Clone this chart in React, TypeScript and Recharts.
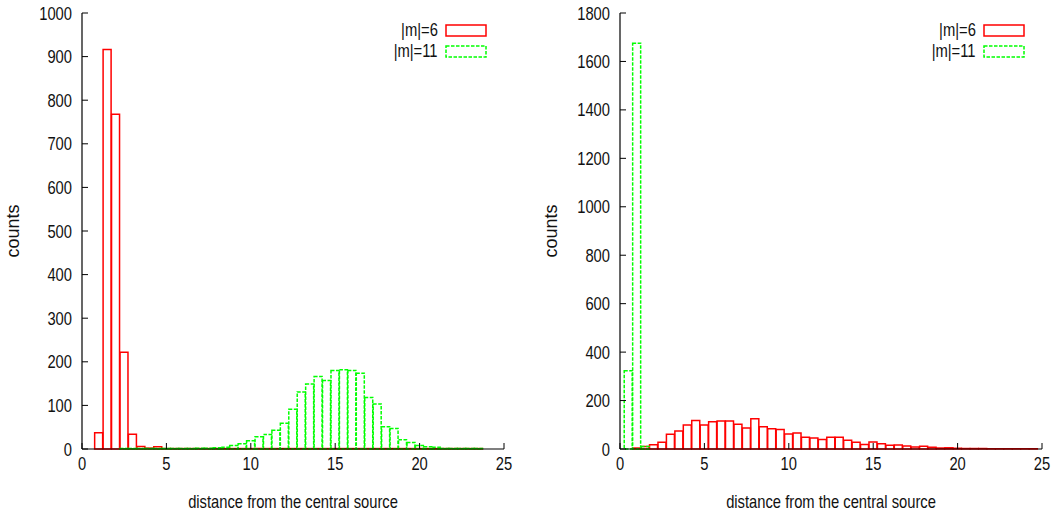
import { Bar, BarChart, Label, Legend, XAxis, YAxis } from "recharts";

// bin centres (distance from the central source), shared by both panels
const distance = [
  0.5, 1, 1.5, 2, 2.5, 3, 3.5, 4, 4.5, 5,
  5.5, 6, 6.5, 7, 7.5, 8, 8.5, 9, 9.5, 10,
  10.5, 11, 11.5, 12, 12.5, 13, 13.5, 14, 14.5, 15,
  15.5, 16, 16.5, 17, 17.5, 18, 18.5, 19, 19.5, 20,
  20.5, 21, 21.5, 22, 22.5, 23, 23.5, 24, 24.5,
];

// left panel
const leftM6 = [
  0, 37, 916, 768, 222, 34, 6, 2, 5, 1,
  1, 1, 1, 1, 1, 1, 1, 1, 1, 1,
  1, 1, 1, 1, 1, 1, 1, 1, 1, 1,
  1, 1, 1, 1, 1, 1, 1, 1, 1, 1,
  1, 1, 1, 1, 1, 1, 1, 0, 0,
];
const leftM11 = [
  0, 0, 0, 0, 1, 1, 1, 1, 1, 1,
  1, 1, 1, 2, 2, 3, 4, 8, 12, 19,
  28, 33, 43, 59, 91, 131, 149, 166, 157, 180,
  182, 180, 174, 118, 103, 51, 47, 21, 15, 8,
  5, 4, 1, 1, 1, 1, 1, 0, 0,
];

// right panel
const rightM6 = [
  0, 4, 10, 18, 28, 61, 74, 99, 118, 99,
  113, 116, 116, 102, 87, 125, 92, 84, 81, 62,
  66, 48, 45, 39, 48, 48, 36, 28, 19, 29,
  22, 15, 17, 12, 8, 11, 7, 4, 5, 3,
  2, 2, 2, 1, 1, 1, 1, 1, 1,
];
const rightM11 = [
  323, 1675, 10, 0, 0, 0, 0, 0, 0, 0,
  0, 0, 0, 0, 0, 0, 0, 0, 0, 0,
  0, 0, 0, 0, 0, 0, 0, 0, 0, 0,
  0, 0, 0, 0, 0, 0, 0, 0, 0, 0,
  0, 0, 0, 0, 0, 0, 0, 0, 0,
];

const xTicks = [0, 5, 10, 15, 20, 25];
const leftYTicks = [0, 100, 200, 300, 400, 500, 600, 700, 800, 900, 1000];
const rightYTicks = [0, 200, 400, 600, 800, 1000, 1200, 1400, 1600, 1800];

const FONT = "'Liberation Sans', Arial, sans-serif";
const FONT_SIZE = 18;
const NARROW = 0.82; // squeeze to look like the condensed helvetica of the original
const TEXT = "#111";
const RED = "#ff0000";
const GREEN = "#00ff00";
const DASH = "3.5 1.5";
const TICK_LEN = 6;

const makeRows = (m6: number[], m11: number[]) =>
  distance.map((d, i) => ({ d, m6: m6[i], m11: m11[i] }));

const NarrowText = ({ x, y, anchor, children }: { x: number; y: number; anchor: string; children: any }) => (
  <text
    transform={`translate(${x} ${y}) scale(${NARROW} 1)`}
    textAnchor={anchor}
    fill={TEXT}
    fontFamily={FONT}
    fontSize={FONT_SIZE}
  >
    {children}
  </text>
);

const BottomTick = (props: any) => {
  const { x, y, payload } = props;
  return (
    <g>
      <line x1={x} x2={x} y1={y} y2={y - TICK_LEN} stroke="#000" />
      <NarrowText x={x} y={y + 20.5} anchor="middle">
        {payload.value}
      </NarrowText>
    </g>
  );
};

const TopTick = (props: any) => {
  const { x, y } = props;
  return <line x1={x} x2={x} y1={y} y2={y + TICK_LEN} stroke="#000" />;
};

const LeftTick = (props: any) => {
  const { x, y, payload } = props;
  return (
    <g>
      <line x1={x} x2={x + TICK_LEN} y1={y} y2={y} stroke="#000" />
      <NarrowText x={x - 10} y={y + 6.5} anchor="end">
        {payload.value}
      </NarrowText>
    </g>
  );
};

const RightTick = (props: any) => {
  const { x, y } = props;
  return <line x1={x - TICK_LEN} x2={x} y1={y} y2={y} stroke="#000" />;
};

const Swatch = ({ color, dashed }: { color: string; dashed?: boolean }) => (
  <svg width={42} height={13} style={{ marginLeft: 7, display: "block" }}>
    <rect
      x={1}
      y={1}
      width={40}
      height={11}
      fill="none"
      stroke={color}
      strokeWidth={1.5}
      strokeDasharray={dashed ? DASH : undefined}
    />
  </svg>
);

const KeyRow = ({ label, color, dashed }: { label: string; color: string; dashed?: boolean }) => (
  <div style={{ display: "flex", alignItems: "center", height: 21 }}>
    <span style={{ width: 68, textAlign: "right", whiteSpace: "nowrap" }}>
      <span style={{ display: "inline-block", transform: `scaleX(${NARROW})`, transformOrigin: "right center" }}>
        {label}
      </span>
    </span>
    <Swatch color={color} dashed={dashed} />
  </div>
);

const KeyBox = () => (
  <div style={{ fontFamily: FONT, fontSize: FONT_SIZE, color: TEXT, lineHeight: "21px" }}>
    <KeyRow label="|m|=6" color={RED} />
    <KeyRow label="|m|=11" color={GREEN} dashed />
  </div>
);

interface PanelProps {
  rows: { d: number; m6: number; m11: number }[];
  yMax: number;
  yTicks: number[];
  width: number;
  yAxisWidth: number;
  rightMargin: number;
  legendLeft: number;
  yLabelX: number;
}

const Panel = ({ rows, yMax, yTicks, width, yAxisWidth, rightMargin, legendLeft, yLabelX }: PanelProps) => (
  <BarChart
    width={width}
    height={518}
    data={rows}
    barCategoryGap={0}
    barGap={0}
    margin={{ top: 13, right: rightMargin, left: 0, bottom: 0 }}
  >
    <XAxis
      xAxisId="bottom"
      type="number"
      dataKey="d"
      domain={[0, 25]}
      ticks={xTicks}
      interval={0}
      height={69}
      tickSize={0}
      tickMargin={0}
      tickLine={false}
      tick={BottomTick}
      axisLine={{ stroke: "#000", strokeWidth: 1.2 }}
    >
      <Label
        content={({ viewBox }: any) => (
          <NarrowText x={viewBox.x + viewBox.width / 2} y={viewBox.y + viewBox.height - 10} anchor="middle">
            distance from the central source
          </NarrowText>
        )}
      />
    </XAxis>
    <XAxis
      xAxisId="top"
      orientation="top"
      type="number"
      dataKey="d"
      domain={[0, 25]}
      ticks={xTicks}
      interval={0}
      height={0}
      tickSize={0}
      tickMargin={0}
      tickLine={false}
      tick={TopTick}
      axisLine={{ stroke: "#000", strokeWidth: 1.2 }}
    />
    <YAxis
      yAxisId="left"
      type="number"
      domain={[0, yMax]}
      ticks={yTicks}
      interval={0}
      width={yAxisWidth}
      tickSize={0}
      tickMargin={0}
      tickLine={false}
      tick={LeftTick}
      axisLine={{ stroke: "#000", strokeWidth: 1.2 }}
    >
      <Label
        content={({ viewBox }: any) => {
          const cx = viewBox.x + yLabelX;
          const cy = viewBox.y + viewBox.height / 2;
          return (
            <text
              x={cx}
              y={cy}
              transform={`rotate(-90 ${cx} ${cy})`}
              textAnchor="middle"
              fill={TEXT}
              fontFamily={FONT}
              fontSize={FONT_SIZE}
            >
              counts
            </text>
          );
        }}
      />
    </YAxis>
    <YAxis
      yAxisId="right"
      orientation="right"
      type="number"
      domain={[0, yMax]}
      ticks={yTicks}
      interval={0}
      width={0}
      tickSize={0}
      tickMargin={0}
      tickLine={false}
      tick={RightTick}
      axisLine={{ stroke: "#000", strokeWidth: 1.2 }}
    />
    <Legend
      layout="vertical"
      align="center"
      verticalAlign="middle"
      wrapperStyle={{ left: legendLeft, top: 20, width: 130 }}
      content={() => <KeyBox />}
    />
    <Bar
      name="|m|=6"
      dataKey="m6"
      xAxisId="bottom"
      yAxisId="left"
      fill="none"
      stroke={RED}
      strokeWidth={1.5}
      isAnimationActive={false}
    />
    <Bar
      name="|m|=11"
      dataKey="m11"
      xAxisId="top"
      yAxisId="right"
      fill="none"
      stroke={GREEN}
      strokeWidth={1.5}
      strokeDasharray={DASH}
      isAnimationActive={false}
    />
  </BarChart>
);

export default function App() {
  return (
    <div style={{ position: "absolute", left: 0, top: 0, width: 1055, height: 518, background: "#fff", fontFamily: FONT }}>
      <div style={{ position: "absolute", left: 0, top: 0 }}>
        <Panel
          rows={makeRows(leftM6, leftM11)}
          yMax={1000}
          yTicks={leftYTicks}
          width={527}
          yAxisWidth={82}
          rightMargin={23}
          legendLeft={370}
          yLabelX={18.5}
        />
      </div>
      <div style={{ position: "absolute", left: 527, top: 0 }}>
        <Panel
          rows={makeRows(rightM6, rightM11)}
          yMax={1800}
          yTicks={rightYTicks}
          width={528}
          yAxisWidth={93}
          rightMargin={13}
          legendLeft={381}
          yLabelX={29.5}
        />
      </div>
    </div>
  );
}
